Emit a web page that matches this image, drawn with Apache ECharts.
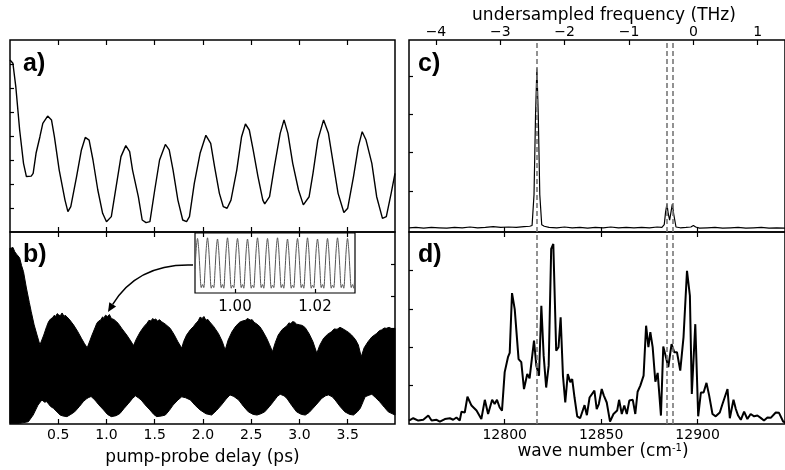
<!DOCTYPE html>
<html>
<head>
<meta charset="utf-8">
<script src="https://cdn.jsdelivr.net/npm/echarts@6/dist/echarts.min.js"></script>
<style>
html,body{margin:0;padding:0;background:#fff;}
#main{width:785px;height:470px;}
</style>
</head>
<body>
<div id="main"></div>
<script>
// ---------- data ----------
// panel a: pump-probe delay (ps), signal
const aSignal = [
 [0.00,7.17],[0.03,7.03],[0.06,6.06],[0.10,4.25],[0.14,2.86],[0.17,2.31],[0.22,2.33],[0.24,2.44],[0.27,3.28],[0.31,3.97],
 [0.34,4.53],[0.39,4.83],[0.43,4.67],[0.46,3.97],[0.51,2.58],[0.57,1.33],[0.60,0.85],[0.63,1.06],[0.69,2.31],[0.74,3.42],
 [0.78,3.94],[0.82,3.83],[0.86,3.00],[0.91,1.75],[0.96,0.78],[1.00,0.43],[1.05,0.64],[1.10,1.89],[1.15,3.14],[1.20,3.60],
 [1.24,3.35],[1.27,2.58],[1.33,1.47],[1.37,0.50],[1.41,0.39],[1.45,0.43],[1.50,1.75],[1.55,3.00],[1.61,3.65],[1.65,3.42],
 [1.69,2.58],[1.74,1.33],[1.79,0.50],[1.83,0.43],[1.86,0.64],[1.91,2.03],[1.97,3.28],[2.03,4.03],[2.08,3.69],[2.12,2.72],
 [2.17,1.61],[2.21,1.06],[2.25,0.99],[2.29,1.33],[2.35,2.58],[2.40,3.97],[2.44,4.50],[2.48,4.25],[2.52,3.42],[2.57,2.31],
 [2.62,1.33],[2.64,1.17],[2.69,1.47],[2.74,2.72],[2.80,4.11],[2.84,4.67],[2.88,4.11],[2.93,2.86],[2.99,1.75],[3.04,1.13],
 [3.10,1.47],[3.14,2.44],[3.19,3.83],[3.25,4.67],[3.30,4.11],[3.35,2.86],[3.40,1.61],[3.46,0.81],[3.50,0.99],[3.56,2.31],
 [3.61,3.56],[3.65,4.18],[3.69,3.83],[3.75,2.86],[3.80,1.47],[3.86,0.57],[3.90,0.64],[3.95,1.61],[3.99,2.44]
];
// panel b: upper and lower envelope of the fast oscillation
const bUpper = [
 [0.00,5.50],[0.01,5.49],[0.03,5.52],[0.05,5.38],[0.07,5.30],[0.10,5.19],[0.12,4.95],[0.14,4.76],[0.17,4.25],[0.20,3.80],[0.22,3.51],[0.25,3.10],[0.28,2.78],[0.31,2.47],[0.35,2.78],
 [0.38,3.05],[0.40,3.20],[0.42,3.28],[0.44,3.32],[0.46,3.40],[0.47,3.35],[0.49,3.45],[0.50,3.42],[0.52,3.38],[0.54,3.47],[0.56,3.36],[0.57,3.40],[0.59,3.35],[0.62,3.25],[0.66,3.09],[0.70,2.90],[0.74,2.68],[0.77,2.52],[0.80,2.38],
 [0.83,2.62],[0.85,2.78],[0.88,3.00],[0.90,3.15],[0.92,3.22],[0.94,3.25],[0.96,3.35],[0.97,3.30],[0.99,3.40],[1.01,3.36],[1.03,3.42],[1.05,3.30],[1.08,3.26],[1.12,3.15],[1.16,2.98],[1.21,2.78],[1.25,2.60],[1.28,2.45],[1.31,2.66],[1.35,2.88],
 [1.39,3.05],[1.42,3.15],[1.44,3.24],[1.46,3.22],[1.48,3.30],[1.49,3.25],[1.51,3.28],[1.53,3.22],[1.55,3.26],[1.57,3.20],[1.61,3.12],[1.66,2.99],[1.70,2.80],[1.74,2.57],[1.78,2.37],[1.80,2.58],[1.83,2.78],[1.87,2.95],[1.90,3.04],
 [1.93,3.16],[1.95,3.22],[1.97,3.34],[1.99,3.30],[2.01,3.36],[2.03,3.24],[2.05,3.27],[2.07,3.19],[2.11,3.05],[2.16,2.83],[2.20,2.58],[2.23,2.31],[2.26,2.62],[2.30,2.88],[2.34,3.06],[2.38,3.18],[2.41,3.22],[2.44,3.24],[2.46,3.30],[2.49,3.25],
 [2.51,3.26],[2.53,3.18],[2.56,3.12],[2.59,3.04],[2.62,2.90],[2.66,2.68],[2.69,2.48],[2.72,2.26],[2.75,2.55],[2.78,2.78],[2.82,2.95],[2.87,3.07],[2.89,3.16],[2.91,3.14],[2.93,3.20],[2.95,3.18],[2.97,3.12],[3.00,3.10],[3.03,3.08],[3.06,3.01],
 [3.10,2.82],[3.14,2.57],[3.18,2.21],[3.21,2.46],[3.25,2.68],[3.29,2.80],[3.33,2.88],[3.36,2.97],[3.39,2.96],[3.42,3.02],[3.44,2.99],[3.47,2.94],[3.49,2.90],[3.51,2.86],[3.54,2.78],[3.58,2.64],[3.61,2.47],[3.64,2.10],
 [3.67,2.38],[3.71,2.57],[3.75,2.72],[3.80,2.83],[3.83,2.92],[3.85,2.94],[3.88,3.00],[3.90,2.99],[3.93,3.02],[3.96,2.97],[3.99,2.99]
];
const bLower = [
 [0.00,0.02],[0.10,0.02],[0.19,0.07],[0.24,0.28],[0.29,0.59],[0.33,0.75],[0.36,0.68],[0.38,0.70],[0.42,0.55],[0.45,0.49],[0.52,0.28],[0.55,0.25],[0.59,0.23],
 [0.63,0.30],[0.67,0.38],[0.72,0.55],[0.76,0.70],[0.79,0.78],[0.81,0.82],[0.84,0.86],[0.88,0.75],[0.92,0.60],[0.97,0.44],[1.01,0.30],[1.05,0.23],[1.10,0.26],[1.14,0.33],[1.18,0.48],[1.23,0.65],[1.27,0.80],[1.30,0.88],[1.33,0.82],[1.36,0.75],
 [1.40,0.60],[1.45,0.44],[1.49,0.30],[1.52,0.23],[1.57,0.25],[1.61,0.28],[1.65,0.42],[1.69,0.59],[1.74,0.75],[1.78,0.85],[1.82,0.82],[1.87,0.75],[1.92,0.58],[1.97,0.44],[2.03,0.32],[2.09,0.28],[2.14,0.42],[2.19,0.59],[2.24,0.78],[2.28,0.91],
 [2.32,0.86],[2.37,0.75],[2.42,0.55],[2.47,0.38],[2.52,0.30],[2.56,0.28],[2.60,0.32],[2.64,0.38],[2.69,0.55],[2.73,0.70],[2.77,0.86],[2.80,0.93],[2.84,0.88],[2.87,0.80],[2.92,0.58],[2.97,0.38],[3.02,0.30],[3.06,0.28],[3.10,0.36],[3.14,0.49],
 [3.19,0.66],[3.23,0.80],[3.27,0.88],[3.30,0.91],[3.34,0.85],[3.37,0.75],[3.42,0.55],[3.47,0.38],[3.52,0.30],[3.56,0.28],[3.60,0.38],[3.63,0.49],[3.66,0.70],[3.68,0.85],[3.72,0.90],[3.75,0.93],[3.79,0.82],[3.83,0.70],[3.88,0.52],[3.92,0.38],
 [3.99,0.28]
];
// inset: delay 0.99 .. 1.03 ps, sampled every 0.0003125 ps
const insetStart = 0.99;
const insetStep = 0.0003125;
const insetValue = [
 0.40,0.74,
 0.91,0.72,0.36,0.09,0.14,0.09,0.38,0.74,
 0.92,0.73,0.37,0.08,0.13,0.09,0.37,0.73,
 0.90,0.71,0.36,0.09,0.14,0.08,0.38,0.74,
 0.92,0.72,0.35,0.08,0.13,0.09,0.37,0.74,
 0.91,0.73,0.37,0.09,0.14,0.08,0.36,0.72,
 0.90,0.72,0.36,0.08,0.13,0.09,0.38,0.74,
 0.92,0.73,0.37,0.09,0.14,0.08,0.37,0.73,
 0.91,0.72,0.36,0.08,0.13,0.09,0.38,0.74,
 0.92,0.73,0.35,0.09,0.14,0.08,0.37,0.72,
 0.90,0.71,0.36,0.08,0.13,0.09,0.38,0.74,
 0.91,0.72,0.37,0.09,0.14,0.08,0.36,0.73,
 0.92,0.73,0.36,0.08,0.13,0.09,0.38,0.74,
 0.90,0.72,0.37,0.09,0.14,0.08,0.37,0.73,
 0.91,0.72,0.36,0.08,0.13,0.09,0.38,0.74,
 0.92,0.73,0.37,0.09,0.14,0.08,0.36,0.73,
 0.91,0.72,0.36,0.09,0.14,0.08,0.38
];
// panel c: spectrum (wave number cm-1, amplitude)
const cSpectrum = [
 [12750.4,0.04],[12754,0.05],[12758,0.03],[12762,0.05],[12766,0.04],[12770,0.03],[12774,0.05],[12778,0.04],[12782,0.06],[12786,0.04],
 [12790,0.05],[12794,0.07],[12798,0.05],[12802,0.06],[12806,0.05],[12810,0.07],[12813,0.08],[12814.2,0.10],[12815.2,0.90],[12816.0,3.00],
 [12816.7,4.20],[12817.4,3.00],[12818.2,0.90],[12819.2,0.12],[12820.5,0.08],[12823,0.05],[12827,0.04],[12831,0.06],[12835,0.04],[12839,0.05],
 [12843,0.03],[12847,0.05],[12851,0.04],[12855,0.06],[12859,0.04],[12863,0.05],[12867,0.04],[12871,0.05],[12875,0.04],[12879,0.06],
 [12881.5,0.05],[12882.7,0.12],[12883.4,0.45],[12884.1,0.66],[12884.8,0.40],[12885.5,0.24],[12886.2,0.45],[12886.9,0.66],[12887.6,0.40],[12888.8,0.06],
 [12891,0.04],[12894,0.05],[12896.5,0.06],[12897.8,0.10],[12899,0.06],[12901,0.03],[12905,0.04],[12909,0.05],[12913,0.03],[12917,0.04],
 [12921,0.05],[12925,0.03],[12929,0.04],[12933,0.05],[12937,0.03],[12941,0.04],[12945.3,0.03]
];
// panel d: spectrum (wave number cm-1, amplitude)
const dSpectrum = [
 [12750.4,0.09],[12752.6,0.15],[12755.2,0.09],[12757.8,0.11],[12760.4,0.22],[12762.1,0.09],[12764.7,0.11],[12766.4,0.06],[12769.0,0.13],[12771.6,0.15],
 [12773.3,0.11],[12775.0,0.17],[12776.7,0.09],[12777.6,0.32],[12779.3,0.30],[12780.7,0.71],[12782.8,0.48],[12785.4,0.35],[12787.9,0.13],[12789.7,0.63],
 [12791.4,0.26],[12793.5,0.63],[12794.8,0.52],[12796.0,0.63],[12797.4,0.43],[12798.6,0.35],[12800.0,1.35],[12801.7,1.74],[12802.6,1.85],[12803.8,3.41],
 [12805.2,2.99],[12807.2,1.69],[12808.6,1.61],[12810.0,0.91],[12811.7,1.30],[12812.9,1.19],[12815.2,2.17],[12816.4,1.52],[12817.8,1.26],[12819.0,3.08],
 [12820.2,1.78],[12821.5,0.95],[12822.8,1.52],[12824.1,4.56],[12825.2,4.69],[12826.7,1.91],[12827.9,2.00],[12829.0,2.78],[12830.2,1.26],[12831.4,0.56],
 [12832.7,1.30],[12834.0,1.09],[12835.0,1.17],[12836.2,0.69],[12837.6,0.20],[12839.1,0.15],[12841.4,0.49],[12842.6,0.23],[12844.0,0.69],[12846.5,0.87],
 [12847.7,0.39],[12848.8,0.52],[12850.3,0.91],[12851.4,0.74],[12852.9,0.56],[12854.6,0.06],[12856.4,0.26],[12858.3,0.35],[12859.3,0.63],[12860.7,0.26],
 [12862.0,0.48],[12863.3,0.26],[12864.6,0.61],[12866.4,0.63],[12867.7,0.26],[12868.9,0.84],[12870.3,1.00],[12872.0,1.26],[12873.3,2.56],[12874.5,2.00],
 [12875.5,2.39],[12876.7,2.00],[12878.1,1.10],[12879.3,1.33],[12881.0,0.22],[12882.2,2.02],[12883.6,1.74],[12884.8,1.48],[12886.5,2.08],[12887.9,1.87],
 [12889.3,1.87],[12891.0,1.39],[12892.7,2.26],[12894.5,3.99],[12896.0,3.34],[12897.0,0.78],[12898.8,2.60],[12900.3,0.20],[12901.7,0.82],[12903.1,0.82],
 [12904.6,1.07],[12906.0,0.74],[12907.7,0.26],[12909.4,0.20],[12911.5,0.30],[12912.9,0.52],[12913.8,0.48],[12915.5,0.91],[12916.7,0.15],[12918.6,0.63],
 [12919.8,0.39],[12921.0,0.22],[12922.4,0.11],[12924.1,0.32],[12925.8,0.13],[12927.5,0.26],[12929.3,0.20],[12931.0,0.22],[12932.7,0.16],[12934.4,0.09],
 [12936.2,0.17],[12937.9,0.16],[12940.5,0.30],[12942.2,0.29],[12944.4,0.06],[12945.3,0.04]
];
// marker lines (cm-1)
const dashedWave = [12816.7, 12884.1, 12886.9];
// tick labels
const delayTicks = [0.5, 1.0, 1.5, 2.0, 2.5, 3.0, 3.5];
const waveTicks = [12800, 12850, 12900];
const thzTicks = [-4, -3, -2, -1, 0, 1];
const insetTicks = [1.00, 1.02];
// axis ranges
const delayMin = 0, delayMax = 3.99;
const waveMin = 12750.4, waveMax = 12945.3;
const waveZero = 12897.8;       // wave number at 0 THz undersampled
const thzPerWave = 0.029979;    // THz per cm-1

// ---------- chart ----------
const insetData = insetValue.map((v, i) => [insetStart + i * insetStep, v]);
const FONT = 'DejaVu Sans';

function xAx(grid, pos, min, max, ticks, showLabel, extra) {
  return Object.assign({
    type: 'value', gridIndex: grid, position: pos, min: min, max: max,
    axisLine: {show: false, onZero: false},
    axisTick: {show: true, inside: true, length: 5, customValues: ticks, lineStyle: {color: '#000', width: 1.2}},
    axisLabel: {show: showLabel, customValues: ticks, color: '#000', fontFamily: FONT, fontSize: 14, margin: 4,
      formatter: v => String(v)},
    splitLine: {show: false}
  }, extra || {});
}
function yAx(grid, pos, min, max, ticks) {
  return {
    type: 'value', gridIndex: grid, position: pos, min: min, max: max,
    axisLine: {show: false, onZero: false},
    axisTick: {show: ticks.length > 0, inside: true, length: 4, customValues: ticks, lineStyle: {color: '#000', width: 1.2}},
    axisLabel: {show: false},
    splitLine: {show: false}
  };
}
const minusFmt = v => (v < 0 ? '\u2212' : '') + Math.abs(v);
const titleStyle = {color: '#000', fontFamily: FONT, fontSize: 17};

const gridBase = {show: true, borderColor: '#000', borderWidth: 1.5, backgroundColor: 'transparent', containLabel: false};
const option = {
  animation: false,
  backgroundColor: '#fff',
  textStyle: {fontFamily: FONT},
  grid: [
    Object.assign({left: 10, top: 40, width: 385, height: 192}, gridBase),
    Object.assign({left: 10, top: 232, width: 385, height: 192}, gridBase),
    Object.assign({left: 409, top: 40, width: 377, height: 192}, gridBase),
    Object.assign({left: 409, top: 232, width: 377, height: 192}, gridBase),
    Object.assign({}, gridBase, {left: 195, top: 233, width: 160, height: 60, borderWidth: 1.2, backgroundColor: '#fff'})
  ],
  xAxis: [
    xAx(0, 'bottom', delayMin, delayMax, delayTicks, false),
    xAx(0, 'top', delayMin, delayMax, delayTicks, false),
    (function () {
      const ax = xAx(1, 'bottom', delayMin, delayMax, delayTicks, true, {
        name: 'pump-probe delay (ps)', nameLocation: 'middle', nameGap: 25, nameTextStyle: titleStyle
      });
      ax.axisLabel.formatter = v => v.toFixed(1);
      return ax;
    })(),
    xAx(1, 'top', delayMin, delayMax, delayTicks, false),
    xAx(2, 'bottom', waveMin, waveMax, waveTicks, false),
    (function () {
      const ax = xAx(2, 'top', (waveMin - waveZero) * thzPerWave, (waveMax - waveZero) * thzPerWave, thzTicks, true, {
        name: 'undersampled frequency (THz)', nameLocation: 'middle', nameGap: 16,
        nameTextStyle: Object.assign({padding: [0, 0, 0, 14]}, titleStyle)
      });
      ax.axisLabel.formatter = minusFmt;
      ax.axisLabel.margin = 1;
      return ax;
    })(),
    xAx(3, 'bottom', waveMin, waveMax, waveTicks, true, {
      name: 'wave number (cm{sup|-1})', nameLocation: 'middle', nameGap: 19,
      nameTextStyle: Object.assign({padding: [0, 0, 0, 12],
        rich: {sup: {fontSize: 10, fontFamily: FONT, color: '#000', verticalAlign: 'top', padding: [0, 0, 7, 0]}}}, titleStyle)
    }),
    xAx(3, 'top', waveMin, waveMax, waveTicks, false),
    (function () {
      const ax = xAx(4, 'bottom', 0.99, 1.03, insetTicks, true);
      ax.axisLabel.formatter = v => v.toFixed(2);
      ax.axisLabel.margin = 7;
      ax.axisLabel.fontSize = 15;
      ax.axisTick.length = 4;
      return ax;
    })()
  ],
  yAxis: [
    yAx(0, 'left', 0, 8, [1, 2, 3, 4, 5, 6, 7]),
    yAx(1, 'left', 0, 6, [1, 2, 3, 4, 5]),
    yAx(1, 'right', 0, 6, [1, 2, 3, 4, 5]),
    yAx(2, 'left', -0.07, 4.94, [1, 2, 3, 4]),
    yAx(3, 'left', 0, 5, [1, 2, 3, 4]),
    yAx(4, 'left', 0, 1, [])
  ],
  series: [
    {type: 'line', xAxisIndex: 0, yAxisIndex: 0, data: aSignal, showSymbol: false, symbol: 'none',
     lineStyle: {color: '#000', width: 1.4}},
    {type: 'custom', xAxisIndex: 2, yAxisIndex: 1, data: [[1, 3]],
     renderItem: function (params, api) {
       const pts = [];
       bUpper.forEach(p => pts.push(api.coord(p)));
       for (let i = bLower.length - 1; i >= 0; i--) pts.push(api.coord(bLower[i]));
       return {type: 'polygon', shape: {points: pts}, style: {fill: '#000', stroke: '#000', lineWidth: 1}};
     }},
    {type: 'line', xAxisIndex: 8, yAxisIndex: 5, data: insetData, showSymbol: false, symbol: 'none', smooth: 0.3,
     lineStyle: {color: '#555', width: 1}},
    {type: 'line', xAxisIndex: 4, yAxisIndex: 3, data: cSpectrum, showSymbol: false, symbol: 'none',
     lineStyle: {color: '#000', width: 1.2}, z: 3,
     markLine: {silent: true, symbol: ['none', 'none'], label: {show: false},
       lineStyle: {color: '#777', width: 1.6, type: [5, 3]},
       data: dashedWave.map(w => ({xAxis: w}))}},
    {type: 'line', xAxisIndex: 6, yAxisIndex: 4, data: dSpectrum, showSymbol: false, symbol: 'none',
     lineStyle: {color: '#000', width: 2}, z: 3,
     markLine: {silent: true, symbol: ['none', 'none'], label: {show: false},
       lineStyle: {color: '#777', width: 1.6, type: [5, 3]},
       data: dashedWave.map(w => ({xAxis: w}))}}
  ],
  graphic: [
    {type: 'text', x: 23, y: 64, style: {text: 'a)', font: 'bold 25px "Liberation Sans"', fill: '#000', verticalAlign: 'middle'}},
    {type: 'text', x: 23, y: 255, style: {text: 'b)', font: 'bold 25px "Liberation Sans"', fill: '#000', verticalAlign: 'middle'}},
    {type: 'text', x: 418, y: 64, style: {text: 'c)', font: 'bold 25px "Liberation Sans"', fill: '#000', verticalAlign: 'middle'}},
    {type: 'text', x: 418, y: 255, style: {text: 'd)', font: 'bold 25px "Liberation Sans"', fill: '#000', verticalAlign: 'middle'}},
    {type: 'bezierCurve', shape: {x1: 193, y1: 265, cpx1: 138, cpy1: 263, x2: 112.7, y2: 304.3},
     style: {stroke: '#000', lineWidth: 1.5, fill: null}, z: 10},
    {type: 'polygon', shape: {points: [[108, 312], [116.1, 306.4], [109.3, 302.2]]}, style: {fill: '#000'}, z: 10}
  ]
};
const chart = echarts.init(document.getElementById('main'), null, {renderer: 'canvas'});
chart.setOption(option);
</script>
</body>
</html>
